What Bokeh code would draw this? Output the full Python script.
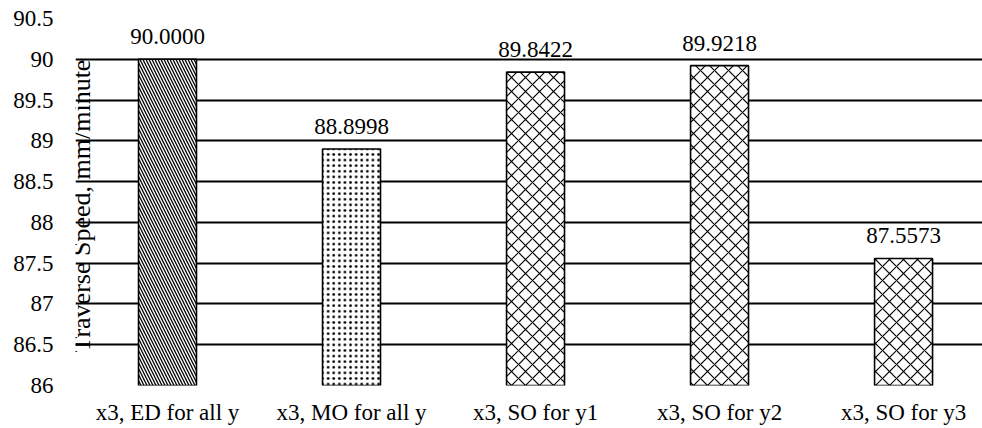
import math
from bokeh.plotting import figure
from bokeh.models import ColumnDataSource, Range1d, FixedTicker, Label
from bokeh.core.properties import value
from bokeh.embed import file_html
from bokeh.resources import INLINE

categories = ["x3, ED for all y", "x3, MO for all y", "x3, SO for y1", "x3, SO for y2", "x3, SO for y3"]
speeds = [90.0, 88.8998, 89.8422, 89.9218, 87.5573]
y_ticks = [86, 86.5, 87, 87.5, 88, 88.5, 89, 89.5, 90, 90.5]
y_tick_labels = ["86", "86.5", "87", "87.5", "88", "88.5", "89", "89.5", "90", "90.5"]
y_title = "Traverse Speed, mm/minute"

hatches = ["\\", ".", "x", "x", "x"]
scales = [6, 5.6, 14, 14, 14]
weights = [1.3, 1.7, 1.2, 1.2, 1.2]

FONT = '"Liberation Serif", serif'

xs = list(range(len(categories)))
src = ColumnDataSource(dict(
    x=xs, top=speeds, hatch=hatches, hscale=scales, hweight=weights,
    lbl=["{:.4f}".format(v) for v in speeds],
))

p = figure(width=982, height=428, output_backend="svg", toolbar_location=None,
           x_range=Range1d(-0.5, 4.429), y_range=Range1d(86, 90.5),
           min_border_left=75, min_border_right=0, min_border_top=18, min_border_bottom=43)
p.outline_line_color = None
p.background_fill_color = "white"
p.border_fill_color = "white"

p.xgrid.grid_line_color = None
p.ygrid.ticker = FixedTicker(ticks=y_ticks)
p.ygrid.grid_line_color = "black"
p.ygrid.grid_line_width = 1.9
p.ygrid.grid_line_alpha = 1.0

p.vbar(x="x", top="top", bottom=86, width=0.315, source=src,
       fill_color="white", line_color="black", line_width=1.6,
       hatch_pattern="hatch", hatch_scale="hscale", hatch_weight="hweight", hatch_color="black")

p.text(x="x", y="top", text="lbl", source=src, text_align="center", text_baseline="bottom",
       y_offset=-15, text_font=value(FONT), text_font_size="23px", text_color="black")

# y axis
p.yaxis.ticker = FixedTicker(ticks=y_ticks)
p.yaxis.major_label_overrides = {t: l for t, l in zip(y_ticks, y_tick_labels)}
p.yaxis.axis_line_color = None
p.yaxis.major_tick_line_color = None
p.yaxis.minor_tick_line_color = None
p.yaxis.major_tick_out = 0
p.yaxis.major_tick_in = 0
p.yaxis.major_label_standoff = 22
p.yaxis.major_label_text_font = FONT
p.yaxis.major_label_text_font_size = "23px"
p.yaxis.major_label_text_color = "black"

# x axis
p.xaxis.ticker = FixedTicker(ticks=xs)
p.xaxis.major_label_overrides = {i: c for i, c in zip(xs, categories)}
p.xaxis.axis_line_color = None
p.xaxis.major_tick_line_color = None
p.xaxis.minor_tick_line_color = None
p.xaxis.major_tick_out = 0
p.xaxis.major_tick_in = 0
p.xaxis.major_label_standoff = 14
p.xaxis.major_label_text_font = FONT
p.xaxis.major_label_text_font_size = "23px"
p.xaxis.major_label_text_color = "black"

p.add_layout(Label(x=-0.468, y=88.2, text=y_title, angle=math.pi / 2,
                   text_align="center", text_baseline="middle",
                   text_font=FONT, text_font_size="26px", text_color="black"))

open("out.html", "w").write(file_html(p, INLINE))
